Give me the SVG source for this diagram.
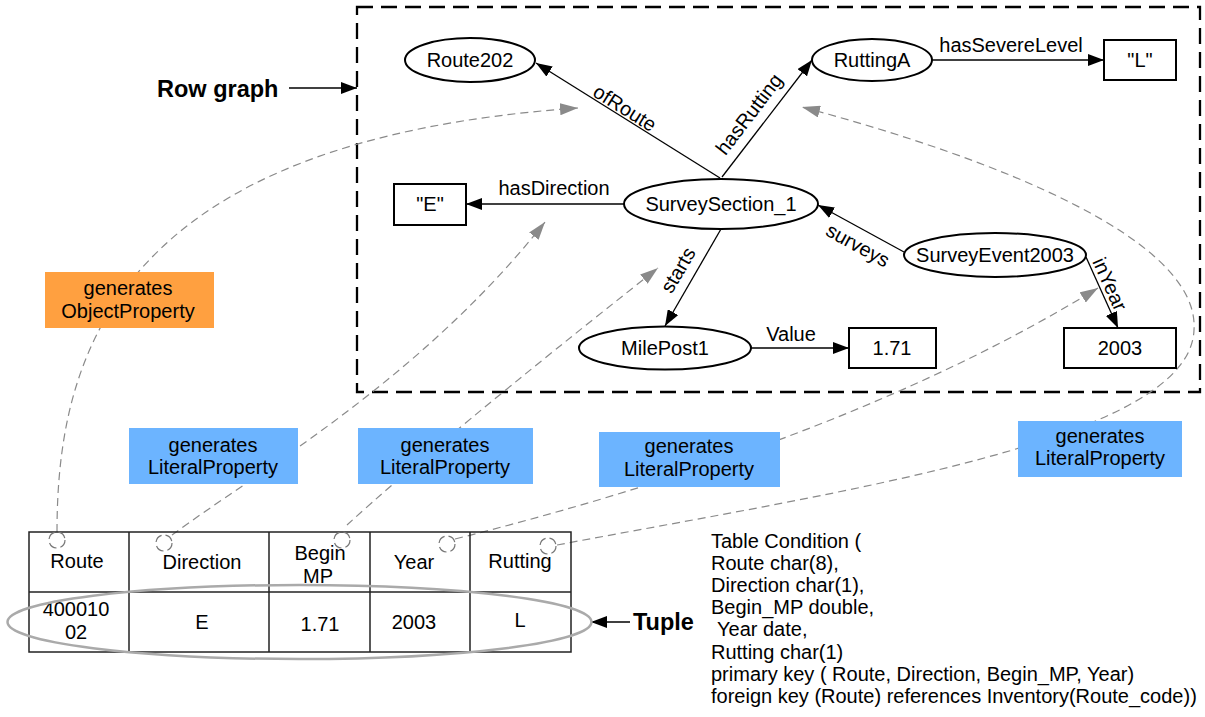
<svg xmlns="http://www.w3.org/2000/svg" width="1205" height="717" viewBox="0 0 1205 717">
<style>
.t{font-family:"Liberation Sans",Arial,sans-serif;font-size:20px;fill:#000}
.m{text-anchor:middle}
.b{font-weight:bold;font-size:23.5px}
.node ellipse{fill:#fff;stroke:#000;stroke-width:2}
.lit rect{fill:#fff;stroke:#000;stroke-width:2}
.edge{stroke:#000;stroke-width:1.3;fill:none;marker-end:url(#ah)}
.gen{stroke:#8a8a8a;stroke-width:1.2;fill:none;stroke-dasharray:8 5;marker-end:url(#gh)}
.port{fill:none;stroke:#777;stroke-width:1.2;stroke-dasharray:9 4}
.blue{fill:#6cb4ff}
.orange{fill:#ffa040}
.tbl{fill:none;stroke:#222;stroke-width:1.5}
</style>
<defs>
<marker id="ah" viewBox="0 0 16 12" refX="16" refY="6" markerWidth="16" markerHeight="12" orient="auto" markerUnits="userSpaceOnUse"><path d="M0,0 L16,6 L0,12 z" fill="#000"/></marker>
<marker id="gh" viewBox="0 0 18 12" refX="18" refY="6" markerWidth="18" markerHeight="12" orient="auto" markerUnits="userSpaceOnUse"><path d="M0,0 L18,6 L0,12 z" fill="#8a8a8a"/></marker>
</defs>
<rect width="1205" height="717" fill="#fff"/>

<!-- frame -->
<rect x="357" y="7" width="843" height="385" fill="none" stroke="#000" stroke-width="2.3" stroke-dasharray="16 8"/>
<text class="t b" x="157" y="97">Row graph</text>

<!-- generating connectors (dashed) -->
<g id="gen-connectors">
<path class="gen" d="M57,532 C57,350 120,140 578,108"/>
<path class="gen" d="M172,535 C260,470 420,380 545,222"/>
<path class="gen" d="M347,525 Q440,440 658,268"/>
<path class="gen" d="M455,539 Q850,440 1098,288"/>
<path class="gen" d="M557,545 C850,490 1190,440 1194,330 C1200,240 1000,160 802,107"/>
</g>

<!-- graph connectors -->
<g id="connectors">
<line class="edge" x1="720" y1="178" x2="536" y2="63"/>
<line class="edge" x1="722" y1="177" x2="812" y2="60"/>
<line class="edge" x1="624" y1="204" x2="466" y2="204"/>
<line class="edge" x1="932" y1="60" x2="1104" y2="60"/>
<line class="edge" x1="904" y1="252" x2="818" y2="205"/>
<line class="edge" x1="1086" y1="257" x2="1118" y2="328"/>
<line class="edge" x1="721" y1="229" x2="665" y2="326"/>
<line class="edge" x1="751" y1="348" x2="849" y2="348"/>
<line class="edge" x1="289" y1="88" x2="357" y2="88"/>
<line class="edge" x1="630" y1="622" x2="591" y2="622"/>
<text class="t m" transform="translate(625,108) rotate(32)" y="7">ofRoute</text>
<text class="t m" transform="translate(749,114) rotate(-52.7)" y="7">hasRutting</text>
<text class="t m" x="554" y="195">hasDirection</text>
<text class="t m" x="1011" y="52">hasSevereLevel</text>
<text class="t m" transform="translate(858,245) rotate(28.7)" y="7">surveys</text>
<text class="t m" transform="translate(1110,284) rotate(65.7)" y="7">inYear</text>
<text class="t m" transform="translate(678,270) rotate(-59.5)" y="7">starts</text>
<text class="t m" x="791" y="341">Value</text>
</g>

<!-- nodes -->
<g id="Route202" class="node"><ellipse cx="470" cy="60" rx="65" ry="22"/><text class="t m" x="470" y="67">Route202</text></g>
<g id="RuttingA" class="node"><ellipse cx="872" cy="60" rx="60" ry="21"/><text class="t m" x="872" y="67">RuttingA</text></g>
<g id="L" class="lit"><rect x="1104" y="40" width="72" height="40"/><text class="t m" x="1140" y="67">"L"</text></g>
<g id="E" class="lit"><rect x="394" y="184" width="72" height="41"/><text class="t m" x="430" y="211">"E"</text></g>
<g id="SurveySection_1" class="node"><ellipse cx="721" cy="204" rx="97" ry="25"/><text class="t m" x="721" y="211">SurveySection_1</text></g>
<g id="SurveyEvent2003" class="node"><ellipse cx="995" cy="255" rx="91" ry="22"/><text class="t m" x="995" y="262">SurveyEvent2003</text></g>
<g id="MilePost1" class="node"><ellipse cx="665" cy="348" rx="86" ry="21.5"/><text class="t m" x="665" y="355">MilePost1</text></g>
<g id="v171" class="lit"><rect x="849" y="328" width="87" height="40"/><text class="t m" x="892" y="355">1.71</text></g>
<g id="v2003" class="lit"><rect x="1064" y="328" width="112" height="40"/><text class="t m" x="1120" y="355">2003</text></g>

<!-- generate labels -->
<g id="genObject"><rect class="orange" x="45" y="272" width="169" height="56"/><text class="t m" x="128" y="295">generates</text><text class="t m" x="128" y="318">ObjectProperty</text></g>
<g id="genLit1"><rect class="blue" x="129" y="428" width="169" height="56"/><text class="t m" x="213" y="452">generates</text><text class="t m" x="213" y="474">LiteralProperty</text></g>
<g id="genLit2"><rect class="blue" x="358" y="428" width="175" height="56"/><text class="t m" x="445" y="452">generates</text><text class="t m" x="445" y="474">LiteralProperty</text></g>
<g id="genLit3"><rect class="blue" x="599" y="432" width="181" height="55"/><text class="t m" x="689" y="453">generates</text><text class="t m" x="689" y="476">LiteralProperty</text></g>
<g id="genLit4"><rect class="blue" x="1018" y="421" width="164" height="56"/><text class="t m" x="1100" y="443">generates</text><text class="t m" x="1100" y="465">LiteralProperty</text></g>

<!-- table -->
<g id="table">
<rect class="tbl" x="29" y="532" width="542" height="120"/>
<line class="tbl" x1="29" y1="592" x2="571" y2="592"/>
<line class="tbl" x1="129" y1="532" x2="129" y2="652"/>
<line class="tbl" x1="269" y1="532" x2="269" y2="652"/>
<line class="tbl" x1="370" y1="532" x2="370" y2="652"/>
<line class="tbl" x1="470" y1="532" x2="470" y2="652"/>
<text class="t m" x="77" y="568">Route</text>
<text class="t m" x="202" y="569">Direction</text>
<text class="t m" x="320" y="560">Begin</text>
<text class="t m" x="318" y="583">MP</text>
<text class="t m" x="414" y="569">Year</text>
<text class="t m" x="520" y="568">Rutting</text>
<text class="t m" x="76" y="616">400010</text>
<text class="t m" x="76" y="639">02</text>
<text class="t m" x="202" y="629">E</text>
<text class="t m" x="320" y="631">1.71</text>
<text class="t m" x="414" y="629">2003</text>
<text class="t m" x="520" y="627">L</text>
<circle class="port" cx="57" cy="540" r="8"/>
<circle class="port" cx="164" cy="543" r="8"/>
<circle class="port" cx="342" cy="540" r="8"/>
<circle class="port" cx="447" cy="544" r="8"/>
<circle class="port" cx="548" cy="546" r="8"/>
</g>
<ellipse id="tuple" cx="299.5" cy="622" rx="292" ry="37" fill="none" stroke="#aaa" stroke-width="2.5"/>
<text class="t b" x="633" y="630">Tuple</text>

<g id="condition">
<text class="t" x="711" y="548">Table Condition (</text>
<text class="t" x="711" y="570.1">Route char(8),</text>
<text class="t" x="711" y="592.2">Direction char(1),</text>
<text class="t" x="711" y="614.3">Begin_MP double,</text>
<text class="t" x="717" y="636.4">Year date,</text>
<text class="t" x="711" y="658.5">Rutting char(1)</text>
<text class="t" x="711" y="680.6">primary key ( Route, Direction, Begin_MP, Year)</text>
<text class="t" x="711" y="702.7">foreign key (Route) references Inventory(Route_code))</text>
</g>
</svg>
